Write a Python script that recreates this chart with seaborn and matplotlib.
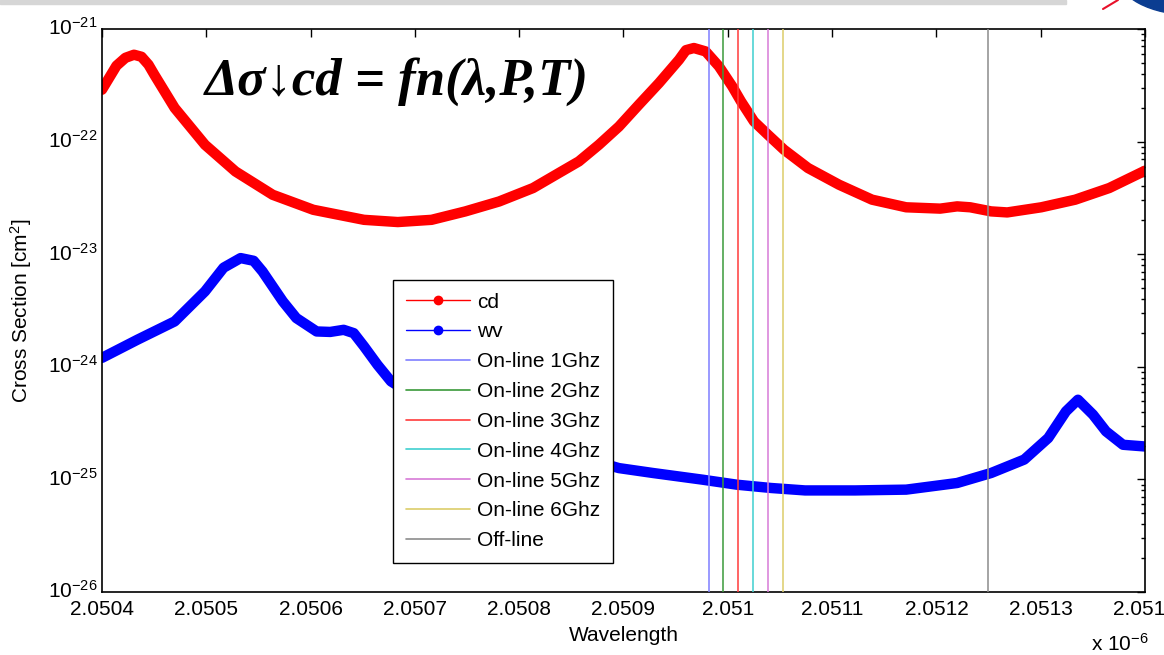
import numpy as np
import pandas as pd
import matplotlib
matplotlib.use('Agg')
import matplotlib.pyplot as plt
import seaborn as sns
from matplotlib.lines import Line2D
from matplotlib.patches import Ellipse, Rectangle
from matplotlib.transforms import ScaledTranslation
from matplotlib.ticker import FixedLocator, FixedFormatter, LogLocator, NullFormatter


# wavelength in units of 1e-6 m, cross section in cm^2
cd_wavelength = [2.0504000, 2.0504139, 2.0504225, 2.0504307, 2.0504379, 2.0504446, 2.0504502,
                 2.0504697, 2.0504988, 2.0505280, 2.0505637, 2.0506026, 2.0506512, 2.0506836,
                 2.0507160, 2.0507484, 2.0507808, 2.0508133, 2.0508380, 2.0508572, 2.0508764,
                 2.0508956, 2.0509148, 2.0509340, 2.0509532, 2.0509599, 2.0509675, 2.0509788,
                 2.0509915, 2.0510043, 2.0510126, 2.0510251, 2.0510385, 2.0510539, 2.0510769,
                 2.0511067, 2.0511383, 2.0511710, 2.0512036, 2.0512199, 2.0512324, 2.0512525,
                 2.0512679, 2.0513005, 2.0513331, 2.0513657, 2.0514000]
cd_cross_section = [2.89e-22, 4.72e-22, 5.55e-22, 5.91e-22, 5.67e-22, 4.82e-22, 3.93e-22,
                    1.99e-22, 9.37e-23, 5.43e-23, 3.37e-23, 2.48e-23, 2.02e-23, 1.93e-23,
                    2.02e-23, 2.40e-23, 2.94e-23, 3.87e-23, 5.26e-23, 6.67e-23, 9.37e-23,
                    1.36e-22, 2.13e-22, 3.31e-22, 5.33e-22, 6.49e-22, 6.78e-22, 6.32e-22,
                    4.66e-22, 3.09e-22, 2.28e-22, 1.51e-22, 1.15e-22, 8.47e-23, 5.83e-23,
                    4.14e-23, 3.05e-23, 2.61e-23, 2.54e-23, 2.66e-23, 2.61e-23, 2.40e-23,
                    2.35e-23, 2.61e-23, 3.05e-23, 3.87e-23, 5.52e-23]

wv_wavelength = [2.0504000, 2.0504340, 2.0504697, 2.0504988, 2.0505166, 2.0505329, 2.0505454,
                 2.0505539, 2.0505734, 2.0505863, 2.0506058, 2.0506188, 2.0506317, 2.0506414,
                 2.0506512, 2.0506642, 2.0506771, 2.0507133, 2.0507613, 2.0508092, 2.0508572,
                 2.0508956, 2.0509282, 2.0509762, 2.0510088, 2.0510414, 2.0510741, 2.0511220,
                 2.0511710, 2.0512199, 2.0512525, 2.0512842, 2.0513072, 2.0513242, 2.0513357,
                 2.0513501, 2.0513626, 2.0513789, 2.0514000]
wv_cross_section = [1.20e-24, 1.74e-24, 2.53e-24, 4.68e-24, 7.59e-24, 9.24e-24, 8.74e-24,
                    7.03e-24, 3.81e-24, 2.71e-24, 2.06e-24, 2.04e-24, 2.13e-24, 1.99e-24,
                    1.52e-24, 1.04e-24, 7.42e-25, 4.60e-25, 3.06e-25, 2.16e-25, 1.59e-25,
                    1.26e-25, 1.14e-25, 9.93e-26, 8.97e-26, 8.39e-26, 7.98e-26, 7.98e-26,
                    8.11e-26, 9.29e-26, 1.14e-25, 1.50e-25, 2.33e-25, 4.02e-25, 5.10e-25,
                    3.76e-25, 2.67e-25, 2.03e-25, 1.96e-25]

# on-line / off-line laser positions
laser_labels = ['On-line 1Ghz', 'On-line 2Ghz', 'On-line 3Ghz', 'On-line 4Ghz',
                'On-line 5Ghz', 'On-line 6Ghz', 'Off-line']
laser_wavelength = [2.0509817, 2.0509957, 2.0510101, 2.0510244, 2.0510383, 2.0510529, 2.0512499]
laser_colors = ['#7f7fff', '#3a9a3a', '#ff3b3b', '#3fcfcf', '#d77ad7', '#dccd6a', '#8c8c8c']

xtick_values = [2.0504, 2.0505, 2.0506, 2.0507, 2.0508, 2.0509, 2.0510, 2.0511, 2.0512, 2.0513, 2.0514]
xtick_labels = ['2.0504', '2.0505', '2.0506', '2.0507', '2.0508', '2.0509', '2.051',
                '2.0511', '2.0512', '2.0513', '2.0514']
ytick_values = [1e-26, 1e-25, 1e-24, 1e-23, 1e-22, 1e-21]
ytick_labels = ['10$^{-26}$', '10$^{-25}$', '10$^{-24}$', '10$^{-23}$', '10$^{-22}$', '10$^{-21}$']

cd = pd.DataFrame({'Wavelength': cd_wavelength, 'Cross Section': cd_cross_section})
wv = pd.DataFrame({'Wavelength': wv_wavelength, 'Cross Section': wv_cross_section})

sns.set_style('white')
plt.rcParams['font.family'] = ['Liberation Sans', 'DejaVu Sans']
plt.rcParams['mathtext.fontset'] = 'custom'
plt.rcParams['mathtext.rm'] = 'Liberation Sans'
plt.rcParams['mathtext.it'] = 'Liberation Sans:italic'
plt.rcParams['mathtext.bf'] = 'Liberation Sans:bold'
plt.rcParams['text.color'] = 'black'
plt.rcParams['axes.labelcolor'] = 'black'

fig = plt.figure(figsize=(11.64, 6.55), dpi=100)
ax = fig.add_axes([0.0876, 0.0962, 0.8961, 0.8595])

# slide decorations at the top
fig.patches.append(Rectangle((0, 1 - 4 / 655), 1066 / 1164, 4 / 655, transform=fig.transFigure,
                             color='#d6d6d6', zorder=0))
fig.patches.append(Ellipse((1192 / 1164, 1 + 25 / 655), 150 / 1164, 80 / 655,
                           transform=fig.transFigure, color='#0b3d91', zorder=0))
fig.lines.append(Line2D([1103 / 1164, 1118 / 1164], [1 - 9 / 655, 1.0], transform=fig.transFigure,
                        color='#e8102a', lw=1.5))

sns.lineplot(data=cd, x='Wavelength', y='Cross Section', color='#ff0000', lw=7.5,
             estimator=None, ax=ax, solid_capstyle='round', solid_joinstyle='round', zorder=2)
sns.lineplot(data=wv, x='Wavelength', y='Cross Section', color='#0000ff', lw=7.5,
             estimator=None, ax=ax, solid_capstyle='round', solid_joinstyle='round', zorder=2)

for wl, col in zip(laser_wavelength, laser_colors):
    ax.axvline(wl, color=col, lw=1.1, zorder=3)

ax.set_yscale('log')
ax.set_xlim(2.0504, 2.0514)
ax.set_ylim(1e-26, 1e-21)

ax.xaxis.set_major_locator(FixedLocator(xtick_values))
ax.xaxis.set_major_formatter(FixedFormatter(xtick_labels))
ax.yaxis.set_major_locator(FixedLocator(ytick_values))
ax.yaxis.set_major_formatter(FixedFormatter(ytick_labels))
ax.yaxis.set_minor_locator(LogLocator(base=10, subs=np.arange(2, 10), numticks=100))
ax.yaxis.set_minor_formatter(NullFormatter())

ax.tick_params(which='both', direction='in', top=True, right=True, colors='black',
               labelsize=15, width=1)
ax.tick_params(axis='x', which='major', length=6, pad=6)
ax.tick_params(axis='y', which='major', length=6, pad=3)
ax.tick_params(which='minor', length=3)
for s in ax.spines.values():
    s.set_color('black')
    s.set_linewidth(1.2)

# nudge the decade labels up a little, as in the original
for lbl in ax.get_yticklabels():
    lbl.set_transform(lbl.get_transform() + ScaledTranslation(0, 2 / 72, fig.dpi_scale_trans))

ax.set_xlabel('Wavelength', fontsize=15, labelpad=5)
ax.set_ylabel('Cross Section [cm$^2$]', fontsize=15, labelpad=10)
fig.text(1120 / 1164, 1 - 644 / 655, 'x 10$^{-6}$', fontsize=15, ha='center', va='center')

ax.text(0.099, 0.907, 'Δσ↓cd = fn(λ,P,T)', transform=ax.transAxes, fontsize=38,
        fontweight='heavy', fontstyle='italic', family=['Liberation Serif', 'DejaVu Serif'],
        color='black', ha='left', va='center', zorder=4)

# legend in MATLAB style
handles = [Line2D([], [], color='#ff0000', lw=1, marker='o', markersize=6, label='cd'),
           Line2D([], [], color='#0000ff', lw=1, marker='o', markersize=6, label='wv')]
for lab, col in zip(laser_labels, laser_colors):
    handles.append(Line2D([], [], color=col, lw=1.2, label=lab))
leg = ax.legend(handles=handles, loc='upper left', bbox_to_anchor=(393 / 1164, 1 - 280 / 655),
                bbox_transform=fig.transFigure, fontsize=15, frameon=True, fancybox=False,
                edgecolor='black', framealpha=1, labelspacing=0.52, handlelength=3.1,
                handletextpad=0.35, borderpad=0.6, numpoints=1, borderaxespad=0)
leg.get_frame().set_linewidth(1.0)
leg.set_zorder(5)

fig.savefig('out.png', dpi=100)
